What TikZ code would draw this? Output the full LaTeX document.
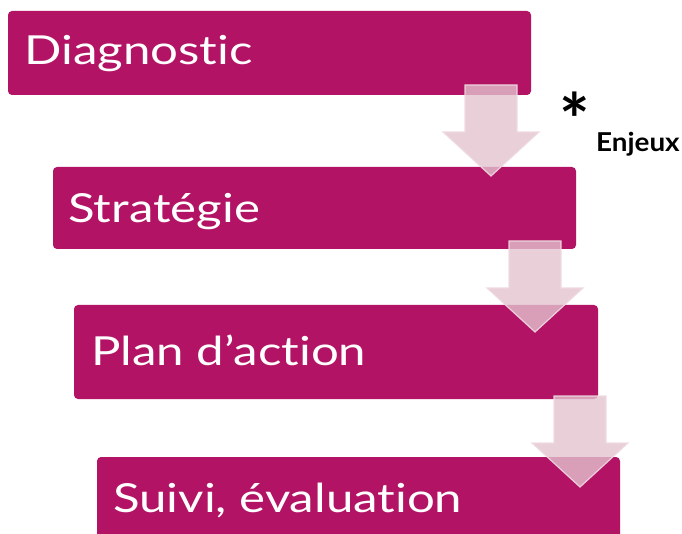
\documentclass[tikz,border=0pt]{standalone}
\usepackage{fontspec}
\setmainfont{Lato}[Ligatures=NoCommon]
\newfontfamily\stepfont{Lato}[FakeStretch=1.23,Ligatures=NoCommon]
\newfontfamily\notefont{Lato}[FakeStretch=1.07,Ligatures=NoCommon]
\definecolor{boxc}{HTML}{B31365}
\definecolor{arrc}{HTML}{E3C3CE}
\definecolor{arrline}{HTML}{EEDAE2}
\tikzset{
  stepbox/.style={draw=none,fill=boxc,rounded corners=4pt},
  steptext/.style={anchor=base west,text=white,inner sep=0pt,font=\stepfont\fontsize{40}{44}\selectfont},
  blockarrow/.style={fill=arrc,fill opacity=0.8,draw=arrline,draw opacity=0.9,line width=1.2pt,line join=miter}
}
\newcommand{\downarrowblock}[2]{% centre x, top y
  \draw[blockarrow] (#1-26,#2) -- (#1+26,#2) -- (#1+26,#2+47) -- (#1+48,#2+47)
    -- (#1,#2+91) -- (#1-48,#2+47) -- (#1-26,#2+47) -- cycle;}
\begin{document}
\begin{tikzpicture}[x=1pt,y=-1pt]
\useasboundingbox (0,0) rectangle (682,534);
\clip (0,0) rectangle (682,534);
\fill[stepbox] (8,11) rectangle (531,95);
\fill[stepbox] (53,167) rectangle (576,249);
\fill[stepbox] (74,305) rectangle (598,399);
\fill[stepbox] (97,457) rectangle (620,560);
\node[steptext] (t1) at (24,65) {Diagnostic};
\node[steptext] (t2) at (68,223) {Stratégie};
\node[steptext] (t3) at (91,365) {Plan d’action};
\node[steptext] (t4) at (113,512) {Suivi, évaluation};
\downarrowblock{491}{85}
\downarrowblock{535}{241}
\downarrowblock{580}{396}
\node[inner sep=0pt,font=\bfseries\fontsize{72}{76}\selectfont] (ast) at (575,119) {*};
\node[anchor=base west,inner sep=0pt,font=\notefont\bfseries\fontsize{26}{30}\selectfont] (enj) at (596,152) {Enjeux};
\end{tikzpicture}
\end{document}
